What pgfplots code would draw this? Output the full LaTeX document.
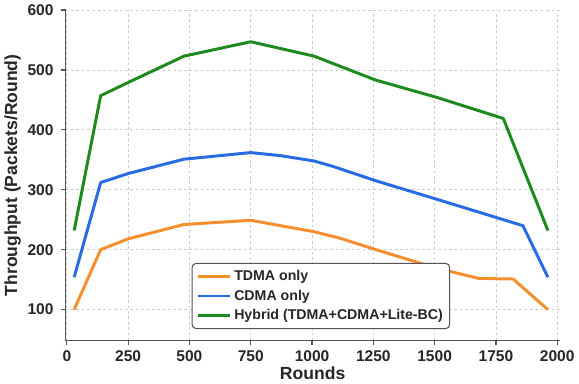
\documentclass[border=0pt]{standalone}
\usepackage{fontspec}
\setmainfont{Liberation Sans}
\usepackage{pgfplots}
\pgfplotsset{compat=1.18}
\definecolor{corange}{RGB}{245,142,45}
\definecolor{cblue}{RGB}{40,108,228}
\definecolor{cgreen}{RGB}{30,138,30}
\definecolor{spine}{RGB}{85,85,85}
\begin{document}
\begin{tikzpicture}
\begin{axis}[
  scale only axis,
  width=366pt, height=245pt,
  xmin=-5, xmax=2010,
  ymin=48, ymax=600,
  axis x line*=bottom, axis y line*=left,
  axis line style={spine, line width=1pt, -},
  xtick={0,250,500,750,1000,1250,1500,1750,2000},
  ytick={100,200,300,400,500,600},
  tick align=outside,
  major tick length=3.5pt,
  tick style={spine, line width=0.9pt},
  grid=major,
  grid style={gray!40, line width=0.6pt, dash pattern=on 2pt off 2pt},
  /pgf/number format/assume math mode=true,
  /pgf/number format/1000 sep={},
  ticklabel style={font=\bfseries\fontsize{11.5}{13}\selectfont, text=black!85},
  yticklabel style={xshift=-2pt},
  xlabel={Rounds},
  ylabel={Throughput (Packets/Round)},
  label style={font=\bfseries\fontsize{13}{15}\selectfont, text=black!85},
  xlabel style={yshift=3pt},
  ylabel style={yshift=-2pt},
  legend style={at={(rel axis cs:0.255,0.035)}, anchor=south west,
    draw=spine, line width=0.8pt, rounded corners=3pt, fill=white,
    font=\bfseries\fontsize{10.5}{12.5}\selectfont, text=black!85,
    row sep=1.5pt, inner xsep=3pt, inner ysep=3pt},
  legend cell align=left,
  legend image code/.code={\draw[#1, line width=2.2pt] (0pt,0pt) -- (24pt,0pt);},
  every axis plot/.append style={line width=2.2pt, line join=round},
]
\addplot[corange] coordinates {
(30,100) (138,200) (250,218) (478,242) (750,249) (1008,230) (1115,219)
(1260,200) (1510,169) (1680,152) (1820,151) (1962,100)};
\addlegendentry{TDMA only}
\addplot[cblue] coordinates {
(30,154) (138,312) (250,327) (478,351) (750,362) (870,357) (1008,348)
(1085,339) (1260,315) (1510,284) (1860,240) (1962,154)};
\addlegendentry{CDMA only}
\addplot[cgreen] coordinates {
(30,232) (138,457) (250,479) (478,523) (750,547) (1008,523) (1260,483)
(1510,454) (1780,419) (1962,232)};
\addlegendentry{Hybrid (TDMA+CDMA+Lite-BC)}
\end{axis}
\end{tikzpicture}
\end{document}
